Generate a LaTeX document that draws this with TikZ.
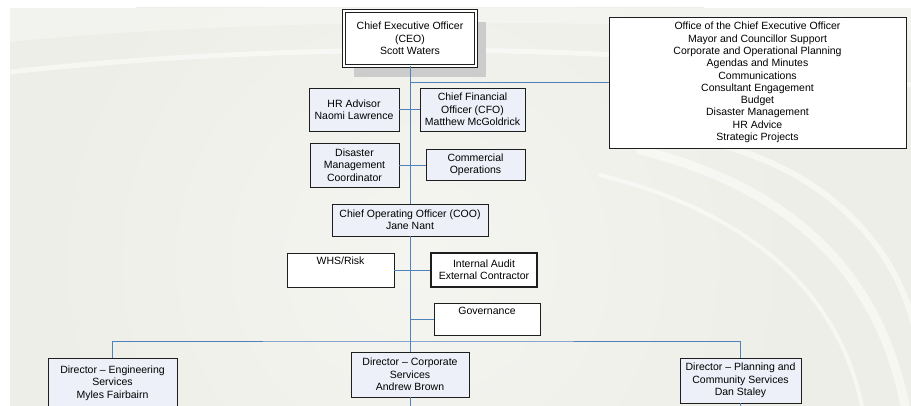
\documentclass[tikz,border=0pt]{standalone}
\usepackage{fontspec}
\setmainfont{Liberation Sans}
\usetikzlibrary{shadows,calc}

\definecolor{bgcol}{RGB}{237,238,231}
\definecolor{bglight}{RGB}{244,245,240}
\definecolor{linkblue}{RGB}{79,129,189}
\definecolor{boxfill}{RGB}{237,240,248}
\definecolor{edge}{RGB}{30,30,30}

\tikzset{
  orgbox/.style={draw=edge, line width=0.9pt, fill=boxfill, align=center,
    inner sep=2pt, font=\fontsize{10.5}{12.3}\selectfont},
  whitebox/.style={orgbox, fill=white},
  toplabel/.style={label={[font=\fontsize{10.5}{12.3}\selectfont, anchor=north, inner sep=4pt]north:#1}},
  link/.style={draw=linkblue, line width=0.9pt},
  band/.style={draw=white, line cap=round, opacity=0.5}
}

\begin{document}
\begin{tikzpicture}[x=1pt, y=-1pt]
  \useasboundingbox (0,0) rectangle (911,406);
  \clip (0,0) rectangle (911,406);

  % page background with a soft glow and light sweeps
  \fill[white] (0,0) rectangle (911,406);
  \fill[bgcol] (10,8) rectangle (911,406);
  \begin{scope}
    \clip (10,8) rectangle (911,406);
    \shade[inner color=bglight, outer color=bgcol] (420,260) circle (380);
    \fill[white, opacity=0.3] (10,8) -- (10,42) .. controls (250,18) and (600,15) .. (911,40) -- (911,8) -- cycle;
    \draw[band, line width=5pt] (10,72) .. controls (280,42) and (640,40) .. (911,85);
    \draw[band, line width=9pt] (640,150) .. controls (800,190) and (880,280) .. (905,406);
    \draw[band, line width=6pt] (700,140) .. controls (840,170) and (900,260) .. (915,330);
    \draw[band, line width=4pt] (600,175) .. controls (760,215) and (840,300) .. (862,406);
  \end{scope}

  % boxes
  \node[whitebox, minimum width=132pt, minimum height=55pt, double=white,
        double distance=1.6pt, line width=0.8pt,
        drop shadow={shadow xshift=10pt, shadow yshift=-11pt, fill=black!20, opacity=1}]
    (ceo) at (410,38.5) {Chief Executive Officer\\(CEO)\\Scott Waters};

  \node[whitebox, minimum width=297pt, minimum height=131pt,
        drop shadow={shadow xshift=1.2pt, shadow yshift=-1.2pt, fill=black!60, opacity=1}]
    (office) at (757.5,82.5) {Office of the Chief Executive Officer\\Mayor and Councillor Support\\
      Corporate and Operational Planning\\Agendas and Minutes\\Communications\\
      Consultant Engagement\\Budget\\Disaster Management\\HR Advice\\Strategic Projects};

  \node[orgbox, minimum width=90pt, minimum height=43pt] (hr) at (354,109.5) {HR Advisor\\Naomi Lawrence};
  \node[orgbox, minimum width=105pt, minimum height=43pt] (cfo) at (472.5,109.5)
    {Chief Financial\\Officer (CFO)\\Matthew McGoldrick};
  \node[orgbox, minimum width=89pt, minimum height=44pt] (dis) at (354.5,165)
    {Disaster\\Management\\Coordinator};
  \node[orgbox, minimum width=99pt, minimum height=31pt] (com) at (475.5,164.5)
    {Commercial\\Operations};

  \node[orgbox, minimum width=156pt, minimum height=32pt] (coo) at (410,220)
    {Chief Operating Officer (COO)\\Jane Nant};

  \node[whitebox, minimum width=107pt, minimum height=34pt, toplabel={WHS/Risk}] (whs) at (340.5,270) {};
  \node[whitebox, minimum width=106pt, minimum height=34pt, line width=1.3pt] (ia) at (484,270)
    {Internal Audit\\External Contractor};
  \node[whitebox, minimum width=106pt, minimum height=32pt, toplabel={Governance}] (gov) at (487,319) {};

  \node[orgbox, minimum width=129pt, minimum height=50pt] (eng) at (112.5,383)
    {Director -- Engineering\\Services\\Myles Fairbairn};
  \node[orgbox, minimum width=118pt, minimum height=45pt] (corp) at (410,374.5)
    {Director -- Corporate\\Services\\Andrew Brown};
  \node[orgbox, minimum width=121pt, minimum height=45pt] (plan) at (740.5,380.5)
    {Director -- Planning and\\Community Services\\Dan Staley};

  \coordinate (bar) at (410,341);
  \coordinate (corpdown) at (410,406);
  \coordinate (plandown) at (740.5,406);

  % reporting lines
  \draw[link] (ceo.south) -- (coo.north);
  \draw[link] (ceo.south |- office.west) -- (office.west);
  \draw[link] (hr.east) -- (cfo.west);
  \draw[link] (dis.east) -- (com.west |- dis.east);
  \draw[link] (coo.south) -- (corp.north);
  \draw[link] (whs.east) -- (ia.west);
  \draw[link] (coo.south |- gov.west) -- (gov.west);
  \draw[link] (eng.north) |- (bar) -| (plan.north);
  \draw[link] (corp.south) -- (corpdown);
  \draw[link] (plan.south) -- (plandown);
\end{tikzpicture}
\end{document}
